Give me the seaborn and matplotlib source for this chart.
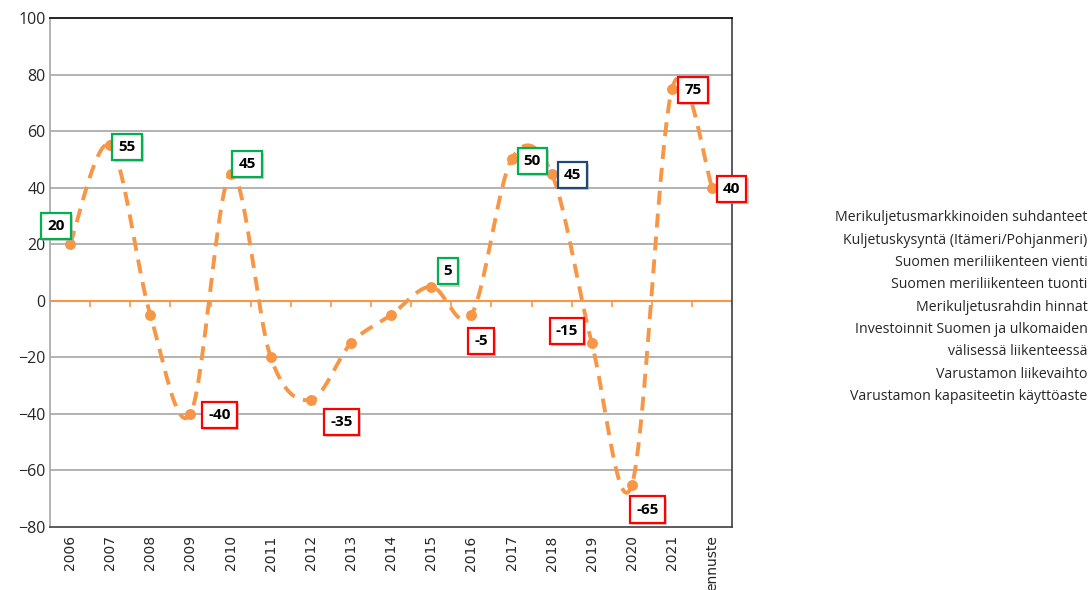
import numpy as np
import pandas as pd
import seaborn as sns
import matplotlib.pyplot as plt

# data
years = ['2006', '2007', '2008', '2009', '2010', '2011', '2012', '2013', '2014',
         '2015', '2016', '2017', '2018', '2019', '2020', '2021', 'ennuste']
values = [20, 55, -5, -40, 45, -20, -35, -15, -5, 5, -5, 50, 45, -15, -65, 75, 40]

# which points get a label box, and box edge colour
labelled = {0: 'green', 1: 'green', 3: 'red', 4: 'green', 6: 'red', 9: 'green',
            10: 'red', 11: 'green', 12: 'blue', 13: 'red', 14: 'red', 15: 'red', 16: 'red'}

legend_lines = ['Merikuljetusmarkkinoiden suhdanteet',
                'Kuljetuskysyntä (Itämeri/Pohjanmeri)',
                'Suomen meriliikenteen vienti',
                'Suomen meriliikenteen tuonti',
                'Merikuljetusrahdin hinnat',
                'Investoinnit Suomen ja ulkomaiden',
                'välisessä liikenteessä',
                'Varustamon liikevaihto',
                'Varustamon kapasiteetin käyttöaste']

# label box offsets (points) relative to the marker
offsets = {0: (-10, 13), 1: (12, -1), 3: (21, -1), 4: (12, 7), 6: (22, -16),
           9: (12, 11), 10: (7, -19), 11: (15, -1), 12: (15, -1), 13: (-18, 9),
           14: (11, -18), 15: (15, -1), 16: (14, -1)}
edge_colors = {'green': '#00B050', 'red': '#FF0000', 'blue': '#1F497D'}
orange = '#F79646'


def smooth(y, n=40):
    # catmull-rom style bezier, close to Excel's "smoothed line"
    x = np.arange(len(y), dtype=float)
    p = np.column_stack([x, y]).astype(float)
    pts = []
    for i in range(len(p) - 1):
        p0 = p[i - 1] if i > 0 else p[i]
        p3 = p[i + 2] if i + 2 < len(p) else p[i + 1]
        c1 = p[i] + (p[i + 1] - p0) / 6
        c2 = p[i + 1] - (p3 - p[i]) / 6
        t = np.linspace(0, 1, n)[:, None]
        seg = ((1 - t) ** 3 * p[i] + 3 * (1 - t) ** 2 * t * c1
               + 3 * (1 - t) * t ** 2 * c2 + t ** 3 * p[i + 1])
        pts.append(seg if i == 0 else seg[1:])
    pts = np.vstack(pts)
    return pts[:, 0], pts[:, 1]


sns.set_style('white')
plt.rcParams['font.family'] = ['Open Sans', 'DejaVu Sans']

df = pd.DataFrame({'x': np.arange(len(years)), 'value': values})
sx, sy = smooth(values)
curve = pd.DataFrame({'x': sx, 'y': sy})

fig = plt.figure(figsize=(10.91, 5.90), dpi=100)
ax = fig.add_axes([0.0458, 0.1068, 0.6254, 0.8627])

for yv in range(-60, 100, 20):
    ax.axhline(yv, color='#A6A6A6', lw=1.2, zorder=0)
ax.axhline(0, color=orange, lw=1.5, zorder=1)
ax.vlines(np.arange(len(years) + 1) - 0.5, -2.2, 0.3, color=orange, lw=1.2, zorder=1)

sns.lineplot(data=curve, x='x', y='y', ax=ax, color=orange, lw=2.8,
             dashes=False, sort=False, zorder=3)
ax.lines[-1].set_dashes((3.6, 2.3))
sns.scatterplot(data=df, x='x', y='value', ax=ax, color=orange, s=62,
                edgecolor=orange, linewidth=0, zorder=4)

for i, col in labelled.items():
    dx, dy = offsets[i]
    # soft shadow behind each box
    ax.annotate(str(values[i]), (i, values[i]), xytext=(dx + 1.5, dy - 1.5),
                textcoords='offset points', ha='center', va='center',
                fontsize=11, fontweight='bold', color='none', zorder=5,
                bbox=dict(boxstyle='square,pad=0.4', fc='#B0B0B0', ec='none',
                          alpha=0.6))
    ax.annotate(str(values[i]), (i, values[i]), xytext=(dx, dy),
                textcoords='offset points', ha='center', va='center',
                fontsize=11, fontweight='bold', color='black', zorder=6,
                bbox=dict(boxstyle='square,pad=0.4', fc='white',
                          ec=edge_colors[col], lw=1.6))

ax.set_xlim(-0.5, len(years) - 0.5)
ax.set_ylim(-80, 100)
ax.set_yticks(range(-80, 101, 20))
ax.set_xticks(range(len(years)))
ax.set_xticklabels(years, rotation=90, fontsize=10, family='DejaVu Sans')
ax.tick_params(axis='y', labelsize=11.5, length=0, pad=3)
ax.tick_params(axis='x', length=0, pad=6)
ax.set_xlabel('')
ax.set_ylabel('')

ax.spines['top'].set_color('black')
ax.spines['right'].set_color('#404040')
ax.spines['bottom'].set_color('#404040')
ax.spines['left'].set_color('#A6A6A6')
for s in ax.spines.values():
    s.set_linewidth(1.2)

for k, line in enumerate(legend_lines):
    fig.text(0.997, 1 - (218 + 22.3 * k) / 590, line, ha='right', va='center',
             fontsize=10.2)

fig.savefig('out.png', dpi=100)
